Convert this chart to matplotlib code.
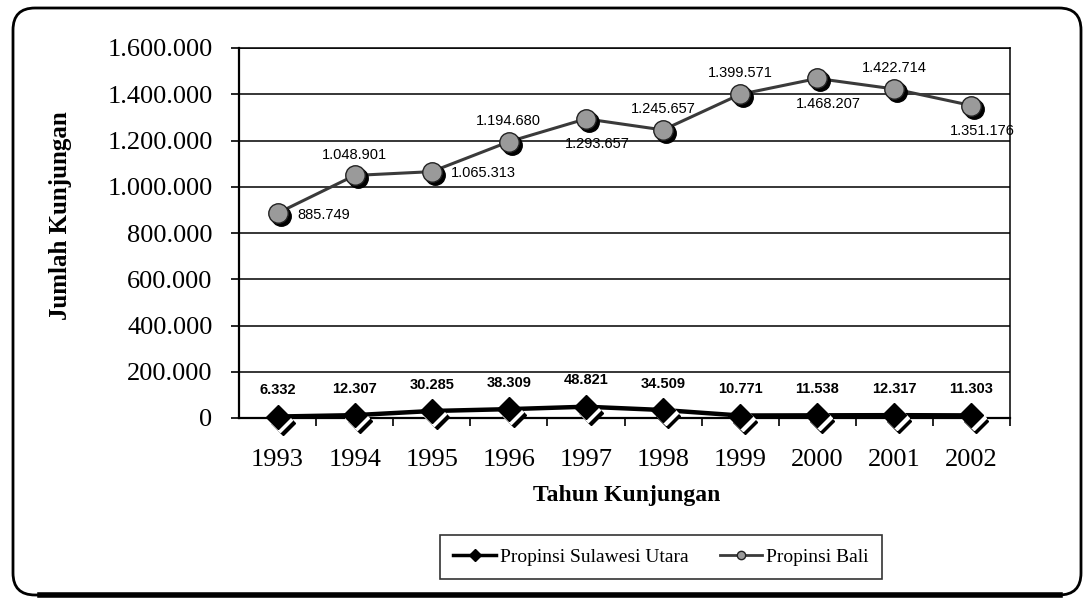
import matplotlib
matplotlib.use('Agg')
import matplotlib.pyplot as plt
from matplotlib import font_manager
from matplotlib.patches import FancyBboxPatch
from matplotlib.lines import Line2D
from matplotlib.transforms import ScaledTranslation, IdentityTransform
from matplotlib.ticker import FuncFormatter, FixedLocator

years = ['1993', '1994', '1995', '1996', '1997', '1998', '1999', '2000', '2001', '2002']
sulut = [6332, 12307, 30285, 38309, 48821, 34509, 10771, 11538, 12317, 11303]
bali = [885749, 1048901, 1065313, 1194680, 1293657, 1245657, 1399571, 1468207, 1422714, 1351176]
bali_pos = ['right', 'above', 'right', 'above', 'below', 'above', 'above', 'below', 'above', 'below']

serif = 'Liberation Serif'
names = {f.name for f in font_manager.fontManager.ttflist}
narrow = 'Liberation Sans Narrow' if 'Liberation Sans Narrow' in names else 'Liberation Sans'
lbl_size = 12 if narrow == 'Liberation Sans Narrow' else 10.5

plt.rcParams['font.family'] = serif

def dots(v, pos=None):
    return f'{int(v):,}'.replace(',', '.')

fig = plt.figure(figsize=(10.84, 6.03), dpi=100)
ax = fig.add_axes([239 / 1084, 1 - 418 / 603, 771 / 1084, 370 / 603])
x = list(range(len(years)))

def shifted(dx, dy):
    return ax.transData + ScaledTranslation(dx / 100, dy / 100, fig.dpi_scale_trans)

# Bali: grey circles with black shadow
ax.plot(x, bali, color='#3a3a3a', lw=2.2, zorder=3)
ax.plot(x, bali, 'o', ms=14, color='black', mec='black', transform=shifted(3, -3), zorder=4)
ax.plot(x, bali, 'o', ms=14, color='#9a9a9a', mec='#222222', mew=1.0, zorder=5)

# Sulawesi Utara: black diamonds with striped shadow
ax.plot(x, sulut, color='black', lw=3.2, zorder=3, clip_on=False)
ax.plot(x, sulut, 'D', ms=12, color='black', mec='black', transform=shifted(5, -6), zorder=4, clip_on=False)
ax.plot(x, sulut, 'D', ms=12, color='white', mec='white', transform=shifted(2.5, -3), zorder=4, clip_on=False)
ax.plot(x, sulut, 'D', ms=12, color='black', mec='black', zorder=5, clip_on=False)

offs = {'right': ((14, -1), 'left', 'center'),
        'above': ((0, 10), 'center', 'bottom'),
        'below': ((8, -13), 'center', 'top')}
for i, (v, p) in enumerate(zip(bali, bali_pos)):
    xy, ha, va = offs[p]
    ax.annotate(dots(v), (i, v), xytext=xy, textcoords='offset points',
                ha=ha, va=va, fontsize=lbl_size, family=narrow, zorder=6)
for i, v in enumerate(sulut):
    ax.annotate(dots(v), (i, v), xytext=(0, 14), textcoords='offset points',
                ha='center', va='bottom', fontsize=lbl_size, family=narrow,
                fontweight='bold', zorder=6)

ax.set_xlim(-0.5, 9.5)
ax.set_ylim(0, 1600000)
ax.set_yticks(range(0, 1600001, 200000))
ax.yaxis.set_major_formatter(FuncFormatter(dots))
ax.grid(axis='y', color='black', lw=1.1)
ax.set_axisbelow(True)
ax.set_xticks(x)
ax.set_xticklabels(years)
ax.xaxis.set_minor_locator(FixedLocator([i + 0.5 for i in x]))
ax.tick_params(axis='x', which='major', length=0, pad=22, labelsize=19)
ax.tick_params(axis='x', which='minor', length=6, width=1.2, direction='out')
ax.tick_params(axis='y', length=6, width=1.2, direction='out', pad=13, labelsize=19)
for s in ax.spines.values():
    s.set_linewidth(1.1)
ax.spines['left'].set_linewidth(1.6)
ax.spines['bottom'].set_linewidth(1.6)

fig.text(61 / 1084, 1 - 216 / 603, 'Jumlah Kunjungan', rotation=90, ha='center', va='center',
         fontsize=18, fontweight='bold')
fig.text(627 / 1084, 1 - 495 / 603, 'Tahun Kunjungan', ha='center', va='center',
         fontsize=17, fontweight='bold')

h1 = Line2D([], [], color='black', lw=2.5, marker='D', ms=6)
h2 = Line2D([], [], color='#3a3a3a', lw=2, marker='o', ms=6, mfc='#9a9a9a', mec='#222222')
leg = fig.legend([h1, h2], ['Propinsi Sulawesi Utara', 'Propinsi Bali'], ncol=2,
                 loc='center', bbox_to_anchor=(661 / 1084, 1 - 557 / 603),
                 fontsize=14, frameon=True, fancybox=False, edgecolor='black',
                 handlelength=2.2, handletextpad=0.2, columnspacing=1.6,
                 borderpad=0.7)
leg.get_frame().set_linewidth(1.2)

# rounded outer border
fig.patches.append(FancyBboxPatch((13, 8), 1068, 587,
                                  boxstyle='round,pad=0,rounding_size=22',
                                  transform=IdentityTransform(), fill=False,
                                  ec='black', lw=2.0))
fig.lines.append(Line2D([40, 1060], [8, 8], transform=IdentityTransform(),
                        color='black', lw=4))

fig.savefig('out.png', dpi=100)
